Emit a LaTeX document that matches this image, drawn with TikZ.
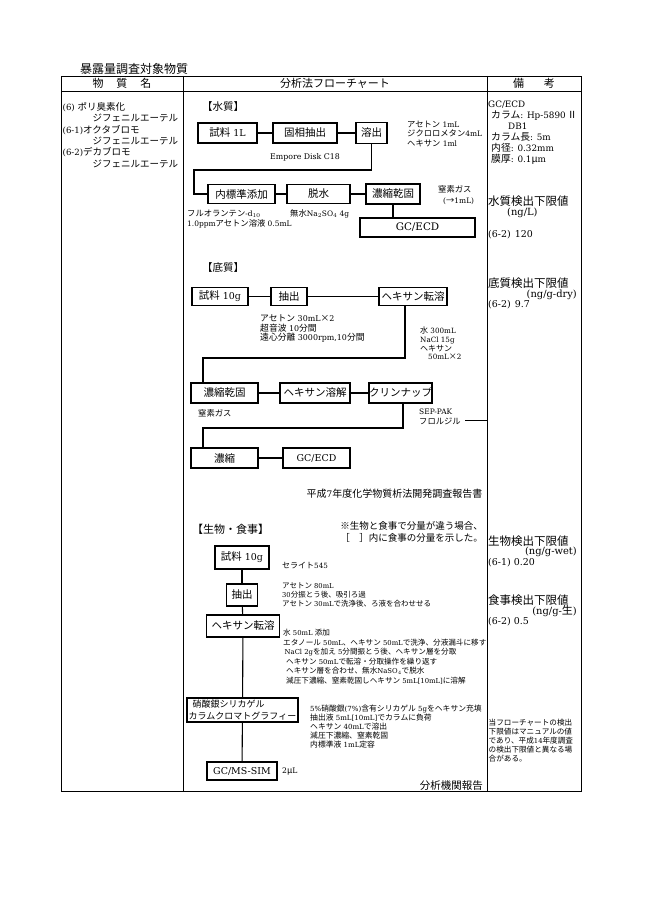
\documentclass[tikz,border=0pt]{standalone}
\usepackage{fontspec}
\setmainfont{DejaVu Serif}[Scale=0.9]
\newfontfamily\cjkfont{Noto Sans CJK JP}
\newcommand\myfs[2]{\fontsize{#1}{#2}\selectfont}
% CJK characters switch to the CJK font automatically
\chardef\cjkcls=200
\makeatletter
\newcommand\setcjkrange[2]{\count@=#1\relax
  \loop\XeTeXcharclass\count@=\cjkcls\relax
  \ifnum\count@<#2\relax\advance\count@\@ne\repeat}
\makeatother
\setcjkrange{"3000}{"30FF}
\setcjkrange{"4E00}{"9FFF}
\setcjkrange{"FF01}{"FF60}
\setcjkrange{"2160}{"217F}
\XeTeXcharclass"00D7=\cjkcls
\XeTeXcharclass"03BC=\cjkcls
\XeTeXcharclass"2192=\cjkcls
\XeTeXcharclass"203B=\cjkcls
\XeTeXinterchartokenstate=1
\XeTeXinterchartoks 0 \cjkcls = {\cjkfont}
\XeTeXinterchartoks 4095 \cjkcls = {\cjkfont}
\XeTeXinterchartoks \cjkcls 0 = {\rmfamily}
\XeTeXinterchartoks \cjkcls 4095 = {\rmfamily}
\tikzset{
  bx/.style={draw, line width=1.1pt, inner sep=0pt, font=\myfs{10.5}{12}},
  ln/.style={line width=1.1pt},
  tbl/.style={line width=0.9pt},
  ann/.style={anchor=north west, inner sep=0pt, align=left},
  lbl/.style={anchor=west, inner sep=0pt},
}
\begin{document}
\begin{tikzpicture}[x=1pt,y=-1pt]
\useasboundingbox[fill=white] (0,0) rectangle (645,912);
% table
\draw[tbl] (61,76) rectangle (581,791);
\draw[tbl] (61,91) -- (581,91);
\draw[tbl] (183,76) -- (183,791);
\draw[tbl] (487,76) -- (487,791);
\node[lbl, font=\myfs{12}{14}] (title) at (80,69) {暴露量調査対象物質};
\node[inner sep=0pt, font=\myfs{11}{13}] (h1) at (122,83.5) {物\hspace{1.3em}質\hspace{1.3em}名};
\node[inner sep=0pt, font=\myfs{11}{13}] (h2) at (335,83.5) {分析法フローチャート};
\node[inner sep=0pt, font=\myfs{11}{13}] (h3) at (534,83.5) {備\hspace{2em}考};
% column 1
\node[ann, font=\myfs{9.5}{11.4}] (subst) at (62.5,102) {(6) ポリ臭素化\\\hspace*{30pt}ジフェニルエーテル\\(6-1)オクタブロモ\\\hspace*{30pt}ジフェニルエーテル\\(6-2)デカブロモ\\\hspace*{30pt}ジフェニルエーテル};
% ===== water =====
\node[lbl, font=\myfs{10.5}{12}] (hw) at (202,107) {【水質】};
\node[bx, minimum width=59, minimum height=20] (a1) at (227.5,133) {試料 1L};
\node[bx, minimum width=64, minimum height=20] (a2) at (305,133) {固相抽出};
\node[bx, minimum width=31, minimum height=21] (a3) at (371.5,133) {溶出};
\node[ann, font=\myfs{8.3}{9.2}] (a3n) at (407,121) {アセトン 1mL\\ジクロロメタン4mL\\ヘキサン 1ml};
\node[inner sep=0pt, font=\myfs{8.7}{10}] (a2n) at (305,157) {Empore Disk C18};
\node[bx, minimum width=67, minimum height=19] (a4) at (241.5,194) {内標準添加};
\node[bx, minimum width=63, minimum height=19] (a5) at (318.5,194) {脱水};
\node[bx, minimum width=54, minimum height=20] (a6) at (393,194) {濃縮乾固};
\node[ann, font=\myfs{8.3}{11}] (a6n) at (438,185) {窒素ガス\\\hspace*{5pt}(→1mL)};
\node[bx, minimum width=115, minimum height=19, font=\myfs{11.5}{12}] (a7) at (417.5,227.5) {GC/ECD};
\node[ann, font=\myfs{8.3}{10.5}] (a4n) at (187,209.5) {フルオランテン-d$_{10}$\\1.0ppmアセトン溶液 0.5mL};
\node[ann, font=\myfs{8.3}{10.5}] (a5n) at (290,209.5) {無水Na$_2$SO$_4$ 4g};
\coordinate (w1) at (371.5,170);
\coordinate (w2) at (194,170);
\draw[ln] (a1) -- (a2);
\draw[ln] (a2) -- (a3);
\draw[ln] (a3.south) -- (w1) -- (w2) |- (a4.west);
\draw[ln] (a4) -- (a5);
\draw[ln] (a5) -- (a6);
\draw[ln] (a6.south) -- (a6.south |- a7.north);
% ===== sediment =====
\node[lbl, font=\myfs{10.5}{12}] (hs) at (202,268) {【底質】};
\node[bx, minimum width=56, minimum height=18] (b1) at (220,296.5) {試料 10g};
\node[bx, minimum width=36, minimum height=18] (b2) at (289,296.5) {抽出};
\node[bx, minimum width=68, minimum height=18] (b3) at (413,296.5) {ヘキサン転溶};
\node[ann, font=\myfs{8.8}{9.7}] (b2n) at (260,314.5) {アセトン 30mL×2\\超音波 10分間\\遠心分離 3000rpm,10分間};
\node[ann, font=\myfs{8}{8.6}] (b3n) at (420,327) {水 300mL\\NaCl 15g\\ヘキサン\\\hspace*{8pt}50mL×2};
\node[bx, minimum width=67, minimum height=20] (b4) at (224.5,393) {濃縮乾固};
\node[bx, minimum width=70, minimum height=20] (b5) at (315,393) {ヘキサン溶解};
\node[bx, minimum width=63, minimum height=20] (b6) at (400.5,393) {クリンナップ};
\node[lbl, font=\myfs{8.3}{10}] (b4n) at (198,413) {窒素ガス};
\node[ann, font=\myfs{8.3}{10}] (b6n) at (419,409) {SEP-PAK\\フロルジル};
\node[bx, minimum width=67, minimum height=20] (b7) at (224.5,458) {濃縮};
\node[bx, minimum width=67, minimum height=20] (b8) at (316.5,458) {GC/ECD};
\node[anchor=east, inner sep=0pt, font=\myfs{10}{12}] (ref1) at (482.5,494) {平成7年度化学物質析法開発調査報告書};
\coordinate (s1) at (405,358);
\coordinate (s2) at (203,358);
\coordinate (s3) at (403,428);
\coordinate (s4) at (203,428);
\coordinate (f1) at (465,420);
\coordinate (f2) at (487,420);
\draw[ln] (b1) -- (b2);
\draw[ln] (b2) -- (b3);
\draw[ln] (s1 |- b3.south) -- (s1) -- (s2) -- (s2 |- b4.north);
\draw[ln] (b4) -- (b5);
\draw[ln] (b5) -- (b6);
\draw[ln] (s3 |- b6.south) -- (s3) -- (s4) -- (s4 |- b7.north);
\draw[ln] (b7) -- (b8);
\draw[tbl] (f1) -- (f2);
% ===== biota / diet =====
\node[lbl, font=\myfs{11}{13}] (hb) at (192,529) {【生物・食事】};
\node[anchor=north east, inner sep=0pt, align=right, font=\myfs{9.5}{12}] (bnote) at (483,521) {※生物と食事で分量が違う場合、\\［　］内に食事の分量を示した。};
\node[bx, minimum width=54, minimum height=23] (c1) at (242,557.5) {試料 10g};
\node[lbl, font=\myfs{8}{9}] (c1n) at (282,566) {セライト545};
\node[bx, minimum width=31, minimum height=22] (c2) at (242,595) {抽出};
\node[ann, font=\myfs{7.5}{9}] (c2n) at (282,582) {アセトン 80mL\\30分振とう後、吸引ろ過\\アセトン 30mLで洗浄後、ろ液を合わせせる};
\node[bx, minimum width=73, minimum height=22] (c3) at (243,626) {ヘキサン転溶};
\node[ann, font=\myfs{7.6}{9.5}] (c3n) at (283,629) {水 50mL 添加\\エタノール 50mL、ヘキサン 50mLで洗浄、分液漏斗に移す\\\hspace*{1.5pt}NaCl 2gを加え 5分間振とう後、ヘキサン層を分取\\\hspace*{3pt}ヘキサン 50mLで転溶・分取操作を繰り返す\\\hspace*{3pt}ヘキサン層を合わせ、無水NaSO$_4$で脱水\\\hspace*{3pt}減圧下濃縮、窒素乾固しヘキサン 5mL[10mL]に溶解};
\node[bx, minimum width=111, minimum height=24, align=left, font=\myfs{9}{12}] (c4) at (242.5,710) {\hspace*{4pt}硝酸銀シリカゲル\\カラムクロマトグラフィー};
\node[ann, font=\myfs{7.8}{8.9}] (c4n) at (310,705) {5\%硝酸銀(7\%)含有シリカゲル 5gをヘキサン充填\\抽出液 5mL[10mL]でカラムに負荷\\ヘキサン 40mLで溶出\\減圧下濃縮、窒素乾固\\内標準液 1mL定容};
\node[bx, minimum width=70, minimum height=18] (c5) at (242,771) {GC/MS-SIM};
\node[lbl, font=\myfs{8.5}{10}] (c5n) at (282,772) {2μL};
\node[anchor=east, inner sep=0pt, font=\myfs{10.5}{12}] (ref2) at (483,786) {分析機関報告};
\draw[ln] (c1) -- (c2);
\draw[ln] (c2) -- (c3);
\draw[ln] (c3) -- (c4);
\draw[ln] (c4) -- (c5);
% ===== remarks column =====
\node[ann, font=\myfs{9.8}{11}] (r1) at (488,100.5) {GC/ECD\\\hspace*{3pt}カラム: Hp-5890\,Ⅱ\\\hspace*{20pt}DB1\\\hspace*{3pt}カラム長: 5m\\\hspace*{3pt}内径: 0.32mm\\\hspace*{3pt}膜厚: 0.1μm};
\node[lbl, font=\myfs{11.5}{12}] (r2) at (488,201) {水質検出下限値};
\node[lbl, font=\myfs{11}{12}] (r3) at (507,213) {(ng/L)};
\node[lbl, font=\myfs{10.5}{12}] (r4) at (488,235) {(6-2)\hspace{4pt}120};
\node[lbl, font=\myfs{11.5}{12}] (r5) at (488,283) {底質検出下限値};
\node[anchor=east, inner sep=0pt, font=\myfs{11}{12}] (r6) at (577,294.5) {(ng/g-dry)};
\node[lbl, font=\myfs{10.5}{12}] (r7) at (488,305) {(6-2)\hspace{4pt}9.7};
\node[lbl, font=\myfs{11.5}{12}] (r8) at (488,541) {生物検出下限値};
\node[anchor=east, inner sep=0pt, font=\myfs{11}{12}] (r9) at (577,552) {(ng/g-wet)};
\node[lbl, font=\myfs{10.5}{12}] (r10) at (488,563) {(6-1) 0.20};
\node[lbl, font=\myfs{11.5}{12}] (r11) at (488,600) {食事検出下限値};
\node[anchor=east, inner sep=0pt, font=\myfs{11}{12}] (r12) at (577,611) {(ng/g-生)};
\node[lbl, font=\myfs{10.5}{12}] (r13) at (488,622) {(6-2) 0.5};
\node[ann, font=\myfs{7.6}{9}] (r14) at (488.5,719) {当フローチャートの検出\\下限値はマニュアルの値\\であり、平成14年度調査\\の検出下限値と異なる場\\合がある。};
\end{tikzpicture}
\end{document}
